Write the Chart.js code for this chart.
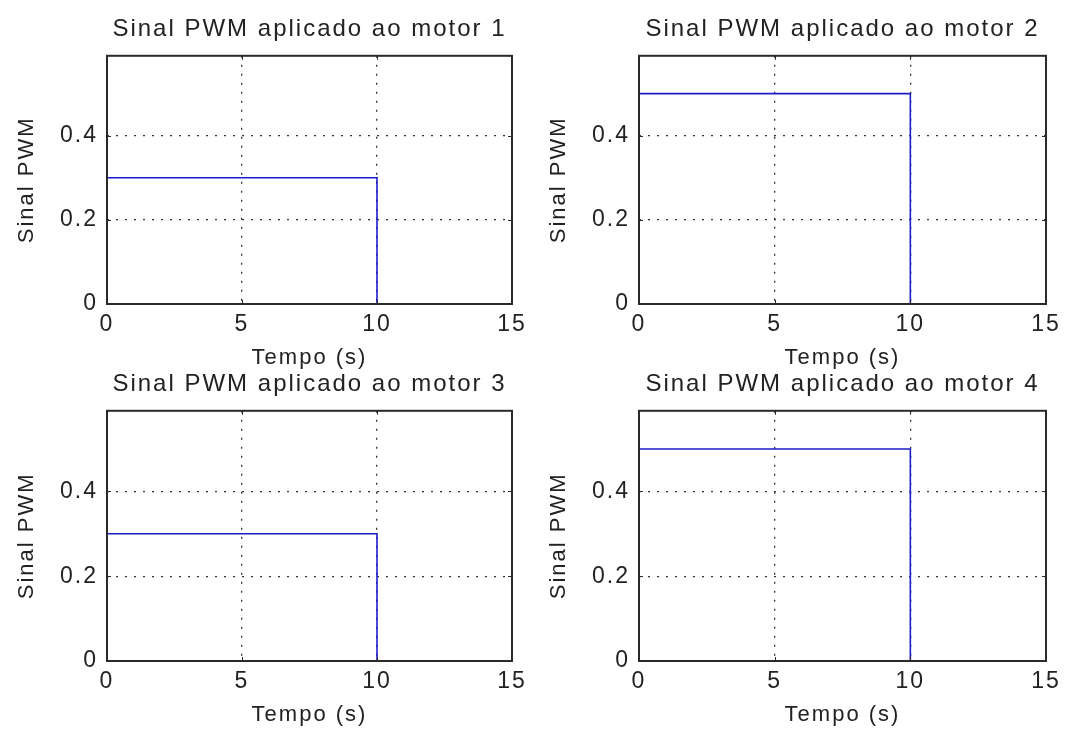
<!DOCTYPE html>
<html>
<head>
<meta charset="utf-8">
<script src="https://cdn.jsdelivr.net/npm/chart.js@4/dist/chart.umd.min.js"></script>
<style>
  html, body { margin: 0; padding: 0; background: #ffffff; overflow: hidden; }
  body { width: 1069px; height: 731px; position: relative; }
  canvas { position: absolute; }
</style>
</head>
<body>
<canvas id="c1" width="532" height="374" style="left:0px;top:0px"></canvas>
<canvas id="c2" width="537" height="374" style="left:532px;top:0px"></canvas>
<canvas id="c3" width="532" height="376" style="left:0px;top:355px"></canvas>
<canvas id="c4" width="537" height="376" style="left:532px;top:355px"></canvas>
<script>
// ---- data ----
const timeSteps = [0, 10, 10];          // tempo (s)
const motor1 = [0.3, 0.3, 0];
const motor2 = [0.5, 0.5, 0];
const motor3 = [0.3, 0.3, 0];
const motor4 = [0.5, 0.5, 0];
const xTickValues = [0, 5, 10, 15];
const yTickValues = [0, 0.2, 0.4];
const xLimits = [0, 15];
const yLimits = [0, 0.59];
const titles = [
  'Sinal PWM aplicado ao motor 1',
  'Sinal PWM aplicado ao motor 2',
  'Sinal PWM aplicado ao motor 3',
  'Sinal PWM aplicado ao motor 4'
];
const xLabel = 'Tempo (s)';
const yLabel = 'Sinal PWM';

// ---- styling ----
const FONT = '"Liberation Sans", Arial, Helvetica, sans-serif';
const TEXT = '#222222';
const LINE = '#1c1cc8';

const spacingPlugin = {
  id: 'spacing',
  beforeInit(chart) { chart.ctx.letterSpacing = '2px'; },
  beforeDraw(chart) { chart.ctx.letterSpacing = '2px'; }
};

const framePlugin = {
  id: 'frame',
  afterDraw(chart) {
    const ctx = chart.ctx;
    const a = chart.chartArea;
    const xs = chart.scales.x, ys = chart.scales.y;
    ctx.save();
    ctx.strokeStyle = '#2a2a2a';
    ctx.lineWidth = 1;
    const tl = 4;
    ctx.beginPath();
    xTickValues.forEach(v => {
      const px = Math.round(xs.getPixelForValue(v)) + 0.5;
      ctx.moveTo(px, a.bottom); ctx.lineTo(px, a.bottom - tl);
      ctx.moveTo(px, a.top); ctx.lineTo(px, a.top + tl);
    });
    yTickValues.forEach(v => {
      const py = Math.round(ys.getPixelForValue(v)) + 0.5;
      ctx.moveTo(a.left, py); ctx.lineTo(a.left + tl, py);
      ctx.moveTo(a.right, py); ctx.lineTo(a.right - tl, py);
    });
    ctx.stroke();
    ctx.lineWidth = 2;
    ctx.strokeRect(a.left, a.top, a.right - a.left, a.bottom - a.top);
    ctx.restore();
  }
};

function makeChart(id, title, values, rightPad) {
  const pts = timeSteps.map((t, i) => ({ x: t, y: values[i] }));
  return new Chart(document.getElementById(id), {
    type: 'line',
    data: {
      datasets: [{
        data: pts,
        borderColor: LINE,
        borderWidth: 1.6,
        pointRadius: 0,
        fill: false,
        tension: 0
      }]
    },
    options: {
      responsive: false,
      animation: false,
      devicePixelRatio: 1,
      layout: { padding: { left: 0, right: rightPad, top: 0, bottom: 0 } },
      plugins: {
        legend: { display: false },
        tooltip: { enabled: false },
        title: {
          display: true,
          text: title,
          color: TEXT,
          fullSize: false,
          font: { family: FONT, size: 24, weight: 'normal', lineHeight: 1.2 },
          padding: { top: 15, bottom: 12 }
        }
      },
      scales: {
        x: {
          type: 'linear',
          min: xLimits[0],
          max: xLimits[1],
          afterBuildTicks: s => { s.ticks = xTickValues.map(v => ({ value: v })); },
          afterFit: s => { s.height = 70; },
          ticks: {
            color: TEXT,
            font: { family: FONT, size: 23 },
            padding: 7,
            maxRotation: 0,
            autoSkip: false,
            callback: v => String(v)
          },
          grid: { color: '#333333', lineWidth: 1.3, drawTicks: false },
          border: { display: false, dash: [2, 7] },
          title: {
            display: true,
            text: xLabel,
            color: TEXT,
            font: { family: FONT, size: 22, lineHeight: 1.2 },
            padding: { top: 0, bottom: 3 }
          }
        },
        y: {
          type: 'linear',
          min: yLimits[0],
          max: yLimits[1],
          afterBuildTicks: s => { s.ticks = yTickValues.map(v => ({ value: v })); },
          afterFit: s => { s.width = 107; },
          ticks: {
            color: TEXT,
            font: { family: FONT, size: 23 },
            padding: 9,
            callback: v => String(v)
          },
          grid: { color: '#333333', lineWidth: 1.3, drawTicks: false },
          border: { display: false, dash: [2, 7] },
          title: {
            display: true,
            text: yLabel,
            color: TEXT,
            font: { family: FONT, size: 22, lineHeight: 1.2 },
            padding: { top: 14, bottom: 0 }
          }
        }
      }
    },
    plugins: [spacingPlugin, framePlugin]
  });
}

makeChart('c1', titles[0], motor1, 20);
makeChart('c2', titles[1], motor2, 23);
makeChart('c3', titles[2], motor3, 20);
makeChart('c4', titles[3], motor4, 23);
</script>
</body>
</html>
